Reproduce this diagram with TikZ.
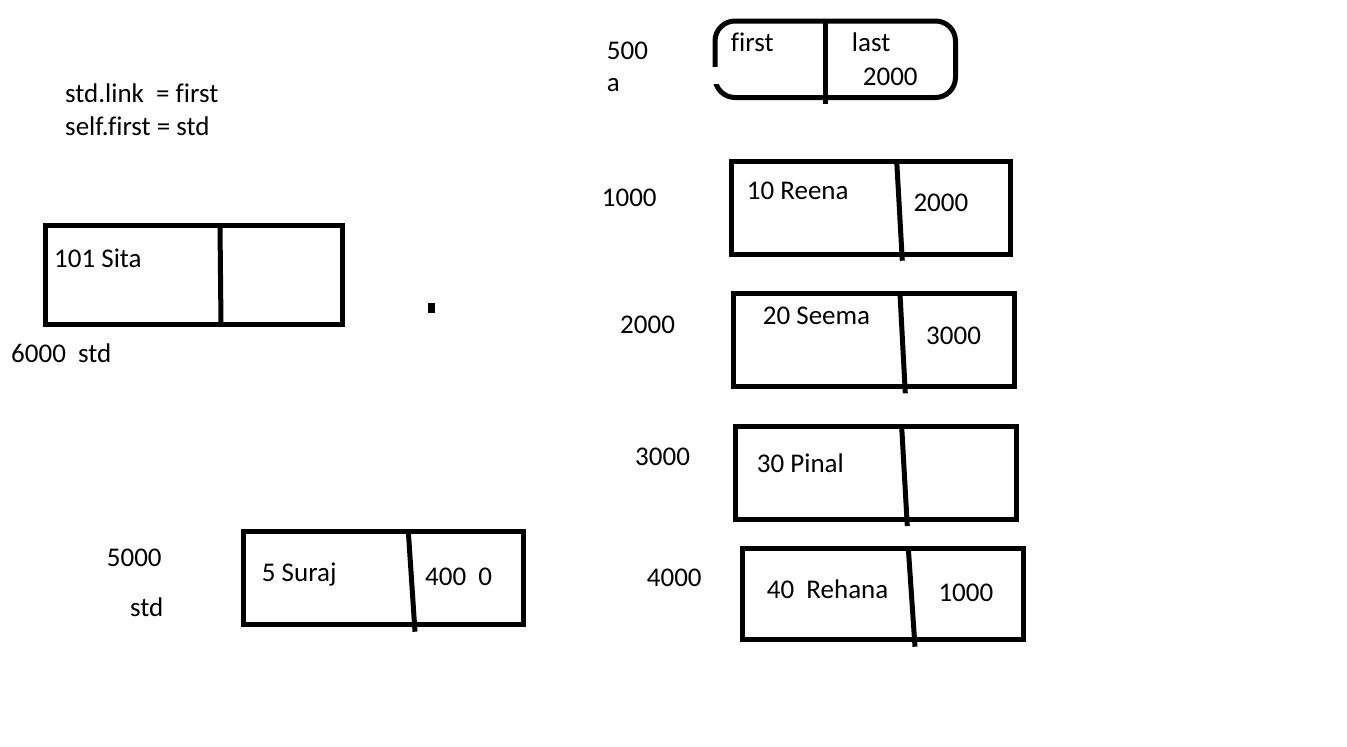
\documentclass[tikz,border=0pt]{standalone}
\usepackage{fontspec}
\setmainfont[Ligatures=CommonOff]{Carlito}
\begin{document}
\begin{tikzpicture}[x=1pt,y=-1pt,
  lbl/.style={anchor=base west,inner sep=0pt,font=\fontsize{27}{31}\selectfont},
  cellbox/.style={draw,line width=5pt,inner sep=0pt,outer sep=0pt},
  divider/.style={line width=5pt}]
\useasboundingbox (0,0) rectangle (1347,747);
\fill[white] (0,0) rectangle (1347,747);

% code lines
\node[lbl] (code1) at (65,102.3) {std.link\ \ = first};
\node[lbl] (code2) at (65,135) {self.first = std};

% head box (first / last)
\node[cellbox,rounded corners=20pt,minimum width=240.5pt,minimum height=76.5pt] (head) at (835.25,59.25) {};
\coordinate (headdt) at (825,21);
\coordinate (headdb) at (825,104);
\draw[divider] (headdt) -- (headdb);
\fill[white] (710,67) rectangle (721,84);
\node[lbl] (hfirst) at (730.7,51.7) {first};
\node[lbl] (hlast) at (851.7,51.7) {last};
\node[lbl] (hval) at (862.7,85) {2000};
\node[lbl] (h500) at (606.7,59.3) {500};
\node[lbl] (ha) at (606.7,91.7) {a};

% Sita
\node[cellbox,minimum width=296.5pt,minimum height=98.4pt] (sita) at (193.75,275) {};
\coordinate (sitadt) at (220,226);
\coordinate (sitadb) at (221,324);
\draw[divider] (sitadt) -- (sitadb);
\node[lbl] (sitatx) at (54,267.3) {101 Sita};
\node[lbl] (sitaad) at (11,362.3) {6000\ \ std};
\fill (427.5,302.5) rectangle (435,312.5);

% Suraj
\node[cellbox,minimum width=280.8pt,minimum height=93.1pt] (suraj) at (383.4,578.25) {};
\coordinate (surajdt) at (408.3,531);
\coordinate (surajdb) at (415,631.7);
\draw[divider] (surajdt) -- (surajdb);
\node[lbl] (surajtx) at (261.7,581.7) {5 Suraj};
\node[lbl] (surajlk) at (425,585) {400\ \ 0};
\node[lbl] (surajad) at (106.7,566) {5000};
\node[lbl] (surajnm) at (130,616.7) {std};

% Reena
\node[cellbox,minimum width=279.5pt,minimum height=92.5pt] (reena) at (870.75,207.75) {};
\coordinate (reenadt) at (896.7,161);
\coordinate (reenadb) at (902.3,260.7);
\draw[divider] (reenadt) -- (reenadb);
\node[lbl] (reenatx) at (746.7,199) {10 Reena};
\node[lbl] (reenalk) at (913.3,211.7) {2000};
\node[lbl] (reenaad) at (601.7,206.7) {1000};

% Seema
\node[cellbox,minimum width=280.7pt,minimum height=92.7pt] (seema) at (874.15,340.15) {};
\coordinate (seemadt) at (900,294);
\coordinate (seemadb) at (905.3,393.3);
\draw[divider] (seemadt) -- (seemadb);
\node[lbl] (seematx) at (762.7,324.3) {20 Seema};
\node[lbl] (seemalk) at (926,344) {3000};
\node[lbl] (seemaad) at (620,333.3) {2000};

% Pinal
\node[cellbox,minimum width=281pt,minimum height=92.4pt] (pinal) at (876,473) {};
\coordinate (pinaldt) at (901.7,427);
\coordinate (pinaldb) at (907.3,526);
\draw[divider] (pinaldt) -- (pinaldb);
\node[lbl] (pinaltx) at (756.7,472.7) {30 Pinal};
\node[lbl] (pinalad) at (635,465) {3000};

% Rehana
\node[cellbox,minimum width=280.4pt,minimum height=91.6pt] (rehana) at (883,594) {};
\coordinate (rehanadt) at (908.3,548);
\coordinate (rehanadb) at (915,646.7);
\draw[divider] (rehanadt) -- (rehanadb);
\node[lbl] (rehanatx) at (766.7,598.3) {40\ \ Rehana};
\node[lbl] (rehanalk) at (938.3,601) {1000};
\node[lbl] (rehanaad) at (646.7,586.7) {4000};
\end{tikzpicture}
\end{document}
